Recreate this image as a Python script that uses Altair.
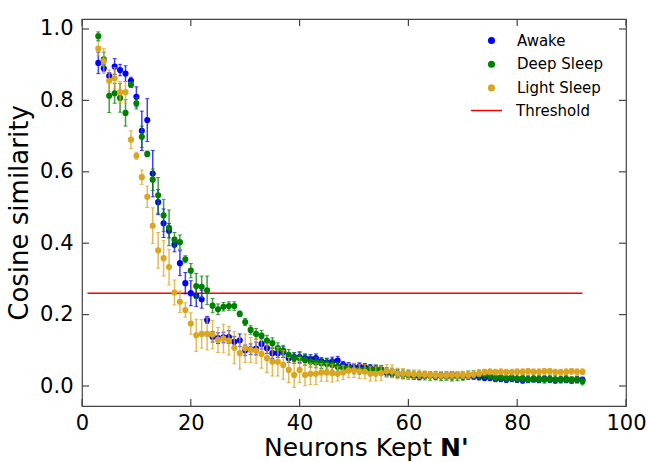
import altair as alt
import pandas as pd

# ---------------- data ----------------
neurons = list(range(3, 93))

awake = [0.905, 0.89, 0.868, 0.895, 0.885, 0.875, 0.855, 0.81, 0.715, 0.745,
         0.595, 0.515, 0.456, 0.435, 0.396, 0.344, 0.288, 0.26, 0.253, 0.243,
         0.185, 0.138, 0.134, 0.136, 0.137, 0.124, 0.128, 0.100, 0.103, 0.105,
         0.118, 0.106, 0.092, 0.092, 0.095, 0.078, 0.081, 0.081, 0.078, 0.076,
         0.078, 0.069, 0.066, 0.069, 0.071, 0.059, 0.056, 0.052, 0.055, 0.053,
         0.050, 0.048, 0.046, 0.038, 0.035, 0.035, 0.033, 0.032, 0.028, 0.026,
         0.029, 0.030, 0.027, 0.030, 0.028, 0.032, 0.030, 0.027, 0.028, 0.027,
         0.025, 0.023, 0.023, 0.020, 0.020, 0.018, 0.020, 0.018, 0.016, 0.018,
         0.019, 0.017, 0.020, 0.018, 0.016, 0.018, 0.017, 0.016, 0.018, 0.017]
awake_err = [0.030, 0.010, 0.010, 0.022, 0.016, 0.022, 0.010, 0.028, 0.055, 0.060,
             0.065, 0.035, 0.040, 0.020, 0.020, 0.035, 0.030, 0.035, 0.030, 0.025,
             0.010, 0.015, 0.015, 0.015, 0.018, 0.015, 0.018, 0.015, 0.015, 0.018,
             0.015, 0.015, 0.015, 0.012, 0.015, 0.012, 0.012, 0.015, 0.012, 0.012,
             0.012, 0.010, 0.012, 0.012, 0.012, 0.010, 0.010, 0.010, 0.010, 0.010,
             0.010, 0.010, 0.010, 0.010, 0.010, 0.010, 0.008, 0.008, 0.008, 0.008,
             0.008, 0.008, 0.008, 0.008, 0.008, 0.008, 0.008, 0.008, 0.008, 0.008,
             0.008, 0.008, 0.008, 0.008, 0.008, 0.008, 0.008, 0.008, 0.008, 0.008,
             0.008, 0.008, 0.008, 0.008, 0.008, 0.008, 0.008, 0.008, 0.008, 0.008]

deep = [0.98, 0.915, 0.813, 0.82, 0.807, 0.765, 0.844, 0.792, 0.698, 0.650,
        0.578, 0.534, 0.478, 0.443, 0.410, 0.403, 0.355, 0.323, 0.280, 0.278,
        0.268, 0.225, 0.215, 0.222, 0.224, 0.224, 0.202, 0.179, 0.157, 0.146,
        0.141, 0.127, 0.120, 0.106, 0.099, 0.087, 0.078, 0.078, 0.073, 0.068,
        0.066, 0.064, 0.062, 0.059, 0.054, 0.050, 0.050, 0.046, 0.045, 0.047,
        0.047, 0.047, 0.046, 0.040, 0.038, 0.035, 0.033, 0.031, 0.030, 0.029,
        0.029, 0.028, 0.029, 0.027, 0.028, 0.026, 0.027, 0.028, 0.030, 0.031,
        0.033, 0.033, 0.028, 0.023, 0.025, 0.022, 0.024, 0.021, 0.022, 0.019,
        0.021, 0.020, 0.018, 0.020, 0.019, 0.018, 0.020, 0.017, 0.018, 0.013]
deep_err = [0.012, 0.020, 0.047, 0.028, 0.040, 0.037, 0.008, 0.016, 0.030, 0.008,
            0.030, 0.050, 0.045, 0.050, 0.020, 0.020, 0.010, 0.020, 0.035, 0.030,
            0.040, 0.020, 0.015, 0.012, 0.012, 0.012, 0.008, 0.010, 0.012, 0.015,
            0.015, 0.015, 0.015, 0.015, 0.015, 0.015, 0.015, 0.015, 0.015, 0.015,
            0.015, 0.015, 0.015, 0.015, 0.012, 0.012, 0.012, 0.012, 0.012, 0.012,
            0.012, 0.012, 0.012, 0.012, 0.012, 0.012, 0.012, 0.012, 0.012, 0.012,
            0.012, 0.012, 0.012, 0.012, 0.012, 0.012, 0.012, 0.012, 0.012, 0.012,
            0.012, 0.012, 0.010, 0.010, 0.010, 0.010, 0.010, 0.010, 0.010, 0.010,
            0.010, 0.010, 0.010, 0.010, 0.010, 0.010, 0.010, 0.010, 0.010, 0.010]

light = [0.945, 0.91, 0.855, 0.862, 0.823, 0.823, 0.69, 0.645, 0.585, 0.53,
         0.449, 0.38, 0.358, 0.333, 0.262, 0.236, 0.213, 0.175, 0.142, 0.146,
         0.146, 0.144, 0.129, 0.133, 0.127, 0.107, 0.092, 0.106, 0.101, 0.099,
         0.090, 0.078, 0.068, 0.068, 0.059, 0.045, 0.031, 0.045, 0.031, 0.034,
         0.034, 0.038, 0.038, 0.036, 0.034, 0.038, 0.043, 0.044, 0.041, 0.040,
         0.034, 0.034, 0.036, 0.042, 0.041, 0.035, 0.034, 0.034, 0.033, 0.033,
         0.032, 0.031, 0.031, 0.030, 0.030, 0.031, 0.031, 0.031, 0.031, 0.033,
         0.035, 0.039, 0.040, 0.039, 0.040, 0.039, 0.039, 0.040, 0.040, 0.041,
         0.040, 0.040, 0.041, 0.041, 0.039, 0.039, 0.040, 0.041, 0.040, 0.040]
light_err = [0.020, 0.035, 0.030, 0.030, 0.030, 0.030, 0.025, 0.010, 0.020, 0.030,
             0.050, 0.050, 0.050, 0.050, 0.035, 0.030, 0.020, 0.030, 0.045, 0.040,
             0.045, 0.040, 0.035, 0.040, 0.040, 0.045, 0.045, 0.040, 0.035, 0.035,
             0.040, 0.040, 0.040, 0.040, 0.040, 0.035, 0.035, 0.035, 0.030, 0.030,
             0.030, 0.025, 0.025, 0.025, 0.020, 0.020, 0.020, 0.020, 0.020, 0.020,
             0.020, 0.020, 0.020, 0.018, 0.018, 0.015, 0.015, 0.012, 0.012, 0.012,
             0.010, 0.010, 0.010, 0.010, 0.010, 0.010, 0.010, 0.010, 0.010, 0.010,
             0.008, 0.008, 0.008, 0.008, 0.008, 0.008, 0.008, 0.008, 0.008, 0.008,
             0.008, 0.008, 0.008, 0.008, 0.008, 0.008, 0.008, 0.008, 0.008, 0.008]

series_names = ["Awake", "Deep Sleep", "Light Sleep"]
series_colors = ["#0000ff", "#008000", "#daa520"]

threshold_x = [1, 92]
threshold_y = [0.26, 0.26]

x_ticks = [0, 20, 40, 60, 80, 100]
y_ticks = [0.0, 0.2, 0.4, 0.6, 0.8, 1.0]

# ---------------- layout ----------------
W, H = 544, 387
FONT = "DejaVu Sans"
TICKLEN = 7
FRAME = "#444444"
YTITLE_SIZE = 26
XTITLE_SIZE = 25

xscale = alt.Scale(domain=[0, 100], nice=False, zero=False)
yscale = alt.Scale(domain=[-0.056, 1.028], nice=False, zero=False)

frames = []
for name, vals, errs in [("Awake", awake, awake_err),
                         ("Deep Sleep", deep, deep_err),
                         ("Light Sleep", light, light_err)]:
    frames.append(pd.DataFrame({
        "N": neurons, "v": vals,
        "lo": [a - b for a, b in zip(vals, errs)],
        "hi": [a + b for a, b in zip(vals, errs)],
        "series": name,
    }))
df = pd.concat(frames, ignore_index=True)

x_axis = alt.Axis(values=x_ticks, labelFont=FONT, labelFontSize=21, labelColor="black",
                  ticks=False, domain=False, grid=False, labelPadding=6,
                  labelFlush=False, title=None)
y_axis = alt.Axis(values=y_ticks, format=".1f", labelFont=FONT, labelFontSize=21,
                  labelColor="black", ticks=False, domain=False, grid=False,
                  labelPadding=9, title="Cosine similarity", titleFont=FONT,
                  titleFontSize=YTITLE_SIZE, titleFontWeight="normal", titleColor="black",
                  titlePadding=7)

color_enc = alt.Color(
    "series:N",
    scale=alt.Scale(domain=series_names, range=series_colors),
    legend=alt.Legend(orient="none", legendX=402, legendY=14,
                      title=None, labelFont=FONT, labelFontSize=15,
                      labelFontWeight="normal",
                      labelColor="black", symbolType="circle",
                      symbolSize=50, symbolStrokeWidth=0,
                      labelOffset=18, rowPadding=7.7, padding=0))

base = alt.Chart(df)

thr_df = pd.DataFrame({"x": threshold_x, "y": threshold_y, "lab": "Threshold"})
threshold = alt.Chart(thr_df).mark_line(strokeWidth=1.5).encode(
    x=alt.X("x:Q", scale=xscale, axis=x_axis),
    y=alt.Y("y:Q", scale=yscale, axis=y_axis),
    stroke=alt.Stroke("lab:N", scale=alt.Scale(domain=["Threshold"], range=["red"]),
                      legend=alt.Legend(orient="none", legendX=388, legendY=75,
                                        title=None, labelFont=FONT, labelFontSize=15,
                                        labelFontWeight="normal",
                                        labelColor="black", symbolType="stroke",
                                        symbolSize=961, symbolStrokeWidth=1.5,
                                        labelOffset=13, padding=0)),
)

layers = [threshold]
for name, col in zip(series_names, series_colors):
    sub = base.transform_filter(alt.datum.series == name)
    bars = sub.mark_rule(strokeWidth=1.5, opacity=0.75, color=col).encode(
        x=alt.X("N:Q", scale=xscale), y=alt.Y("lo:Q", scale=yscale), y2="hi:Q")
    cap_lo = sub.mark_tick(orient="horizontal", size=4, thickness=1, color=col,
                           opacity=0.75).encode(
        x=alt.X("N:Q", scale=xscale), y=alt.Y("lo:Q", scale=yscale))
    cap_hi = sub.mark_tick(orient="horizontal", size=4, thickness=1, color=col,
                           opacity=0.75).encode(
        x=alt.X("N:Q", scale=xscale), y=alt.Y("hi:Q", scale=yscale))
    pts = sub.mark_circle(size=38, opacity=1).encode(
        x=alt.X("N:Q", scale=xscale), y=alt.Y("v:Q", scale=yscale),
        color=color_enc)
    layers += [bars, cap_lo, cap_hi, pts]

# inward ticks on all four sides
xt = pd.DataFrame({"t": x_ticks})
yt = pd.DataFrame({"t": y_ticks})
tick_style = dict(color=FRAME, strokeWidth=1.2)
layers += [
    alt.Chart(xt).mark_rule(**tick_style).encode(
        x=alt.X("t:Q", scale=xscale), y=alt.value(H), y2=alt.value(H - TICKLEN)),
    alt.Chart(xt).mark_rule(**tick_style).encode(
        x=alt.X("t:Q", scale=xscale), y=alt.value(0), y2=alt.value(TICKLEN)),
    alt.Chart(yt).mark_rule(**tick_style).encode(
        y=alt.Y("t:Q", scale=yscale), x=alt.value(0), x2=alt.value(TICKLEN)),
    alt.Chart(yt).mark_rule(**tick_style).encode(
        y=alt.Y("t:Q", scale=yscale), x=alt.value(W), x2=alt.value(W - TICKLEN)),
]

# x-axis title with bold N'
title_df = pd.DataFrame({"a": [0]})
layers += [
    alt.Chart(title_df).mark_text(text="Neurons Kept", font=FONT, fontSize=XTITLE_SIZE,
                                  align="right", baseline="alphabetic", color="black").encode(
        x=alt.value(W / 2 + 78), y=alt.value(H + 50)),
    alt.Chart(title_df).mark_text(text="N'", font=FONT, fontSize=XTITLE_SIZE, fontWeight="bold",
                                  align="left", baseline="alphabetic", color="black").encode(
        x=alt.value(W / 2 + 86), y=alt.value(H + 50)),
]

chart = alt.layer(*layers).properties(
    width=W, height=H,
    autosize=alt.AutoSizeParams(type="none"),
    padding={"left": 82, "top": 19, "right": 22, "bottom": 56},
    background="white",
).configure_view(stroke=FRAME, strokeWidth=1.2)

chart.save("out.html", embed_options={"renderer": "svg", "actions": False})
